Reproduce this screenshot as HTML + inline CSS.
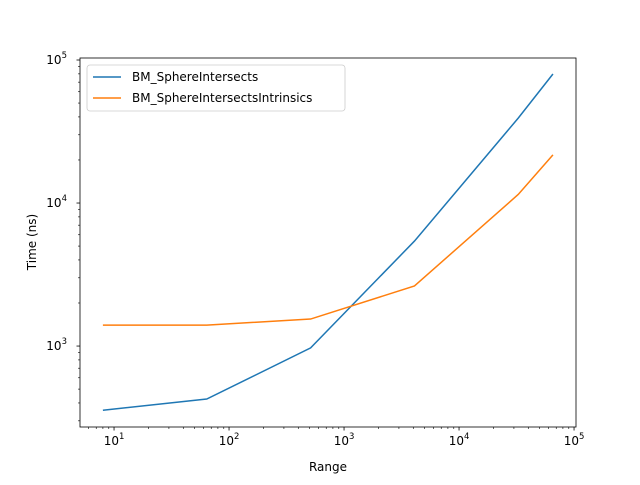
<!DOCTYPE html>
<html><head><meta charset="utf-8"><style>
body{margin:0;background:#fff;font-family:"Liberation Sans","DejaVu Sans",sans-serif}
svg text{font-family:"DejaVu Sans","Liberation Sans",sans-serif;font-size:12px;fill:#000}
</style></head><body>
<svg id="c" width="640" height="480"></svg>
<script>
const xs=[8,64,512,4096,32768,65536];
const blueVals=[356,426,970,5420,39300,79800];
const orangeVals=[1400,1400,1545,2630,11500,21700];
const seriesNames=["BM_SphereIntersects","BM_SphereIntersectsIntrinsics"];
const xTickExp=[1,2,3,4,5];
const yTickExp=[3,4,5];
const L=80,R=576,T=58,B=427;
const xmin=0.704,xmax=5.017,ymin=2.434,ymax=5.014;
const X=v=>L+(Math.log10(v)-xmin)/(xmax-xmin)*(R-L);
const Y=v=>B-(Math.log10(v)-ymin)/(ymax-ymin)*(B-T);
const svg=document.getElementById('c');const NS='http://www.w3.org/2000/svg';
function mk(t,a,p){const e=document.createElementNS(NS,t);for(const k in a)e.setAttribute(k,a[k]);(p||svg).appendChild(e);return e;}
for(let d=0;d<=5;d++)for(let m=1;m<10;m++){const v=m*Math.pow(10,d);const lv=Math.log10(v);
 if(lv>=xmin&&lv<=xmax){const x=X(v);const major=m===1;
  const t=mk('line',{x1:x,x2:x,y1:B,y2:B+(major?3.5:2),stroke:'#000','stroke-width':major?0.8:0.6});
  }
 if(lv>=ymin&&lv<=ymax){const y=Y(v);const major=m===1;
  const t=mk('line',{x1:L,x2:L-(major?3.5:2),y1:y,y2:y,stroke:'#000','stroke-width':major?0.8:0.6});
  }}
xTickExp.forEach(e=>{const g=mk('text',{x:X(Math.pow(10,e)),y:B+18,'text-anchor':'middle'});
 
 g.textContent='10';const s=mk('tspan',{dy:-6,'font-size':'8.5px'},g);s.textContent=e;});
yTickExp.forEach(e=>{const g=mk('text',{x:L-13,y:Y(Math.pow(10,e))+4,'text-anchor':'end'});
 
 g.textContent='10';const s=mk('tspan',{dy:-6,'font-size':'8.5px'},g);s.textContent=e;});
[[blueVals,'#1f77b4'],[orangeVals,'#ff7f0e']].forEach((s,i)=>{
 const p=mk('polyline',{points:xs.map((x,j)=>X(x)+','+Y(s[0][j])).join(' '),fill:'none',stroke:s[1],'stroke-width':1.5});
 });
const fr=mk('rect',{x:L,y:T,width:R-L,height:B-T,fill:'none',stroke:'#000','stroke-width':0.8});

const lg=mk('g',{});
mk('rect',{x:87,y:65,width:258,height:46,rx:3,fill:'#fff',stroke:'#ccc','stroke-width':0.8},lg);
[['#1f77b4',seriesNames[0]],['#ff7f0e',seriesNames[1]]].forEach((s,i)=>{const y=77+i*21;
 mk('line',{x1:93,x2:121,y1:y,y2:y,stroke:s[0],'stroke-width':1.5},lg);
 const t=mk('text',{x:132,y:y+4},lg);t.textContent=s[1];
 });
const xl=mk('text',{x:328,y:471,'text-anchor':'middle'});xl.textContent='Range';

const yl=mk('text',{x:0,y:0,'text-anchor':'middle',transform:'translate(36,242) rotate(-90)'});yl.textContent='Time (ns)';

</script></body></html>
